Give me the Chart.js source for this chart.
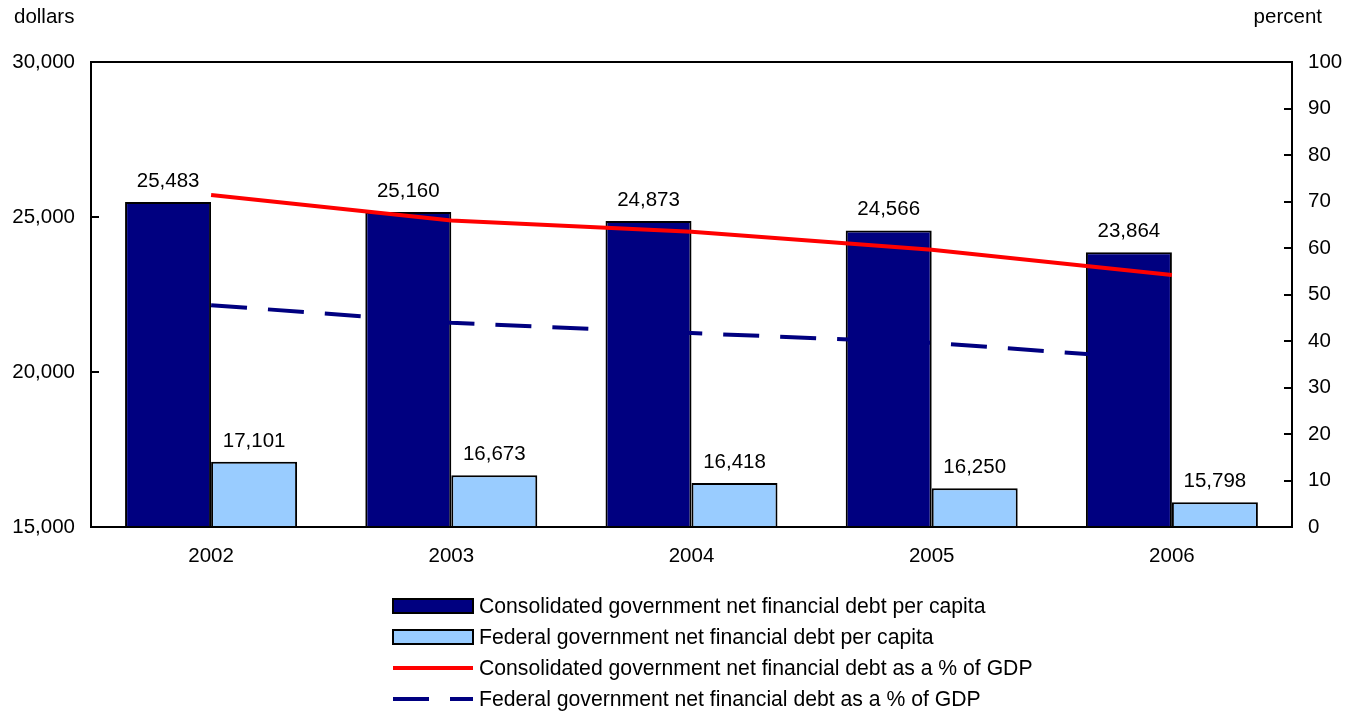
<!DOCTYPE html>
<html lang="en">
<head>
  <meta charset="UTF-8">
  <title>Net financial debt per capita</title>
  <script src="https://cdn.jsdelivr.net/npm/chart.js"></script>
  <style>
    html, body { margin: 0; padding: 0; background: #fff; }
    canvas { display: block; }
  </style>
</head>
<body>
  <canvas id="debtChart" width="1356" height="714"></canvas>

  <script>
    const years = ['2002', '2003', '2004', '2005', '2006'];
    const consolidatedPerCapita = [25483, 25160, 24873, 24566, 23864];
    const federalPerCapita = [17101, 16673, 16418, 16250, 15798];
    const consolidatedPctGdp = [71.4, 65.9, 63.5, 59.6, 54.2];
    const federalPctGdp = [47.7, 43.9, 41.7, 39.6, 35.9];
    const seriesNames = [
      'Consolidated government net financial debt per capita',
      'Federal government net financial debt per capita',
      'Consolidated government net financial debt as a % of GDP',
      'Federal government net financial debt as a % of GDP'
    ];

    const FAMILY = '"Liberation Sans", Arial, sans-serif';
    const SIZE = 20.5;
    const FONT = SIZE + 'px ' + FAMILY;
    const LEGEND_FONT = '21.2px ' + FAMILY;
    const NAVY = '#000080', LIGHT = '#99ccff', RED = '#ff0000';
    const fmt = v => v.toLocaleString('en-US');

    // frame, inward tick marks, bar values, axis units and legend
    const decorations = {
      id: 'decorations',
      afterDatasetsDraw(chart) {
        const c = chart.ctx, a = chart.chartArea;
        const yL = chart.scales.y, yR = chart.scales.y1;
        c.save();
        c.strokeStyle = '#000'; c.lineWidth = 2;
        c.strokeRect(a.left, a.top, a.right - a.left, a.bottom - a.top);
        c.beginPath();
        for (let v = 20000; v < 30000; v += 5000) {
          const y = Math.round(yL.getPixelForValue(v));
          c.moveTo(a.left, y); c.lineTo(a.left + 8, y);
        }
        for (let v = 10; v < 100; v += 10) {
          const y = Math.round(yR.getPixelForValue(v));
          c.moveTo(a.right, y); c.lineTo(a.right - 8, y);
        }
        c.stroke();

        c.font = FONT; c.fillStyle = '#000';
        c.textAlign = 'center'; c.textBaseline = 'middle';
        [0, 1].forEach(i => {
          const meta = chart.getDatasetMeta(i);
          meta.data.forEach((bar, j) => {
            c.fillText(fmt(chart.data.datasets[i].data[j]), bar.x, bar.y - 21);
          });
        });

        c.textAlign = 'left';
        c.fillText('dollars', 14, 17);
        c.textAlign = 'right';
        c.fillText('percent', 1322, 17);

        // legend, one row per series
        const bx = 393, bw = 80, tx = 479;
        c.font = LEGEND_FONT;
        chart.data.datasets.forEach((ds, i) => {
          const y = 606 + i * 31;
          if (ds.type === 'line') {
            c.strokeStyle = ds.borderColor; c.lineWidth = 4;
            c.setLineDash(ds.borderDash || []);
            c.beginPath(); c.moveTo(bx, y); c.lineTo(bx + bw, y); c.stroke();
            c.setLineDash([]);
          } else {
            c.fillStyle = ds.backgroundColor;
            c.fillRect(bx, y - 7, bw, 14);
            c.strokeStyle = '#000'; c.lineWidth = 2;
            c.strokeRect(bx, y - 7, bw, 14);
          }
          c.fillStyle = '#000';
          c.textAlign = 'left';
          c.fillText(ds.label, tx, y + 1);
        });
        c.restore();
      }
    };

    const tickFont = { family: FAMILY, size: SIZE };

    new Chart(document.getElementById('debtChart'), {
      type: 'bar',
      data: {
        labels: years,
        datasets: [
          {
            label: seriesNames[0], data: consolidatedPerCapita, yAxisID: 'y',
            backgroundColor: NAVY, borderColor: '#000', borderWidth: 2,
            categoryPercentage: 0.716, barPercentage: 1, order: 2
          },
          {
            label: seriesNames[1], data: federalPerCapita, yAxisID: 'y',
            backgroundColor: LIGHT, borderColor: '#000', borderWidth: 2,
            categoryPercentage: 0.716, barPercentage: 1, order: 2
          },
          {
            type: 'line', label: seriesNames[2], data: consolidatedPctGdp, yAxisID: 'y1',
            borderColor: RED, borderWidth: 4, pointRadius: 0, fill: false, order: 0
          },
          {
            type: 'line', label: seriesNames[3], data: federalPctGdp, yAxisID: 'y1',
            borderColor: NAVY, borderWidth: 4, borderDash: [36, 21], pointRadius: 0,
            fill: false, order: 1
          }
        ]
      },
      options: {
        responsive: false, animation: false,
        layout: { padding: { top: 62, left: 0, right: 0, bottom: 0 } },
        plugins: { legend: { display: false }, tooltip: { enabled: false } },
        scales: {
          x: {
            grid: { display: false, drawTicks: false }, border: { display: false },
            ticks: { color: '#000', font: tickFont, padding: 17 },
            afterFit: s => { s.height = 187; }
          },
          y: {
            position: 'left', min: 15000, max: 30000,
            grid: { display: false, drawTicks: false }, border: { display: false },
            ticks: { stepSize: 5000, color: '#000', padding: 16, font: tickFont, callback: v => fmt(v) },
            afterFit: s => { s.width = 91; }
          },
          y1: {
            position: 'right', min: 0, max: 100,
            grid: { display: false, drawTicks: false }, border: { display: false },
            ticks: { stepSize: 10, color: '#000', padding: 16, font: tickFont },
            afterFit: s => { s.width = 64; }
          }
        }
      },
      plugins: [decorations]
    });
  </script>
</body>
</html>
